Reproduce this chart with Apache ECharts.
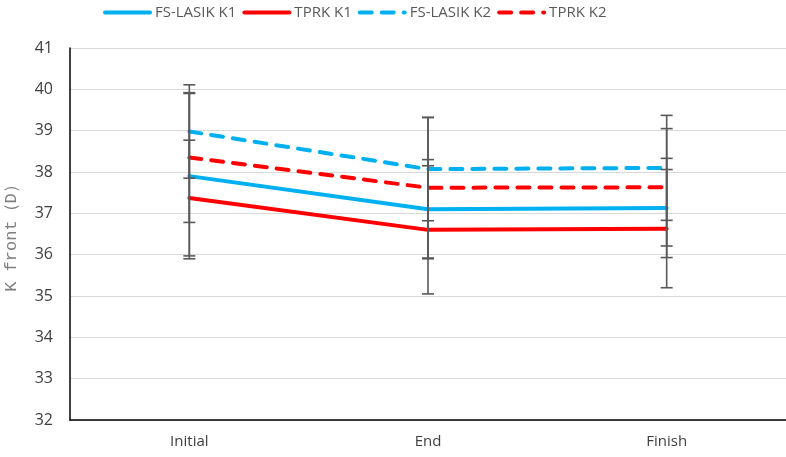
<!DOCTYPE html>
<html><head><meta charset="utf-8">
<script src="https://cdn.jsdelivr.net/npm/echarts@6/dist/echarts.min.js"></script>
<style>html,body{margin:0;padding:0;background:#fff}#c{width:786px;height:457px}</style>
</head><body><div id="c"></div>
<script>
const categories = ['Initial', 'End', 'Finish'];
const fsK1 = [37.90, 37.10, 37.13];
const tprkK1 = [37.37, 36.60, 36.63];
const fsK2 = [38.98, 38.07, 38.10];
const tprkK2 = [38.35, 37.62, 37.63];
const fsK1Sd = [2.00, 1.20, 1.20];
const tprkK1Sd = [1.40, 1.55, 1.43];
const fsK2Sd = [1.13, 1.25, 1.27];
const tprkK2Sd = [1.57, 1.70, 1.42];
const yTicks = [32, 33, 34, 35, 36, 37, 38, 39, 40, 41];

const BLUE = '#00B0F0', RED = '#FF0000';
function lineSeries(name, data, color, dashed) {
  return { name, type: 'line', data, symbol: 'none', showSymbol: false, z: 2,
    lineStyle: { color, width: 4, type: dashed ? [12, 10] : 'solid', cap: 'round' },
    itemStyle: { color } };
}
function errSeries(means, sds) {
  return { type: 'custom', z: 5, silent: true,
    data: means.map((m, i) => [i, m - sds[i], m + sds[i]]),
    renderItem: function (params, api) {
      const lo = api.coord([api.value(0), api.value(1)]);
      const hi = api.coord([api.value(0), api.value(2)]);
      const w = 6;
      const st = { stroke: '#595959', lineWidth: 1.6 };
      return { type: 'group', children: [
        { type: 'line', shape: { x1: lo[0], y1: lo[1], x2: hi[0], y2: hi[1] }, style: st },
        { type: 'line', shape: { x1: lo[0] - w, y1: lo[1], x2: lo[0] + w, y2: lo[1] }, style: st },
        { type: 'line', shape: { x1: hi[0] - w, y1: hi[1], x2: hi[0] + w, y2: hi[1] }, style: st }
      ]};
    }
  };
}
const chart = echarts.init(document.getElementById('c'));
chart.setOption({
  animation: false,
  textStyle: { fontFamily: 'Open Sans' },
  legend: {
    left: 98, top: 0, itemWidth: 45, itemHeight: 8, itemGap: 6,
    lineStyle: { width: 4, cap: 'round' },
    itemStyle: { opacity: 0 },
    textStyle: { color: '#595959', fontSize: 15, fontFamily: 'Open Sans' },
    data: ['FS-LASIK K1', 'TPRK K1', 'FS-LASIK K2', 'TPRK K2']
  },
  grid: { left: 70, right: 0, top: 48, bottom: 37, containLabel: false, outerBoundsMode: 'none' },
  xAxis: {
    type: 'category', data: categories, boundaryGap: true,
    axisLine: { lineStyle: { color: '#000', width: 1.5 } },
    axisTick: { show: false },
    axisLabel: { color: '#404040', fontSize: 15, margin: 14 }
  },
  yAxis: {
    type: 'value', min: yTicks[0], max: yTicks[yTicks.length - 1], interval: 1,
    name: 'K front（D）', nameLocation: 'middle', nameGap: 50,
    nameTextStyle: { color: '#7f7f7f', fontSize: 17, fontFamily: 'Liberation Mono' },
    axisLine: { show: true, lineStyle: { color: '#000', width: 1.5 } },
    axisTick: { show: false },
    axisLabel: { color: '#404040', fontSize: 16, margin: 17 },
    splitLine: { lineStyle: { color: '#d9d9d9', width: 1.2 } }
  },
  series: [
    lineSeries('FS-LASIK K1', fsK1, BLUE, false),
    lineSeries('TPRK K1', tprkK1, RED, false),
    lineSeries('FS-LASIK K2', fsK2, BLUE, true),
    lineSeries('TPRK K2', tprkK2, RED, true),
    errSeries(fsK1, fsK1Sd),
    errSeries(tprkK1, tprkK1Sd),
    errSeries(fsK2, fsK2Sd),
    errSeries(tprkK2, tprkK2Sd)
  ]
});
</script></body></html>
